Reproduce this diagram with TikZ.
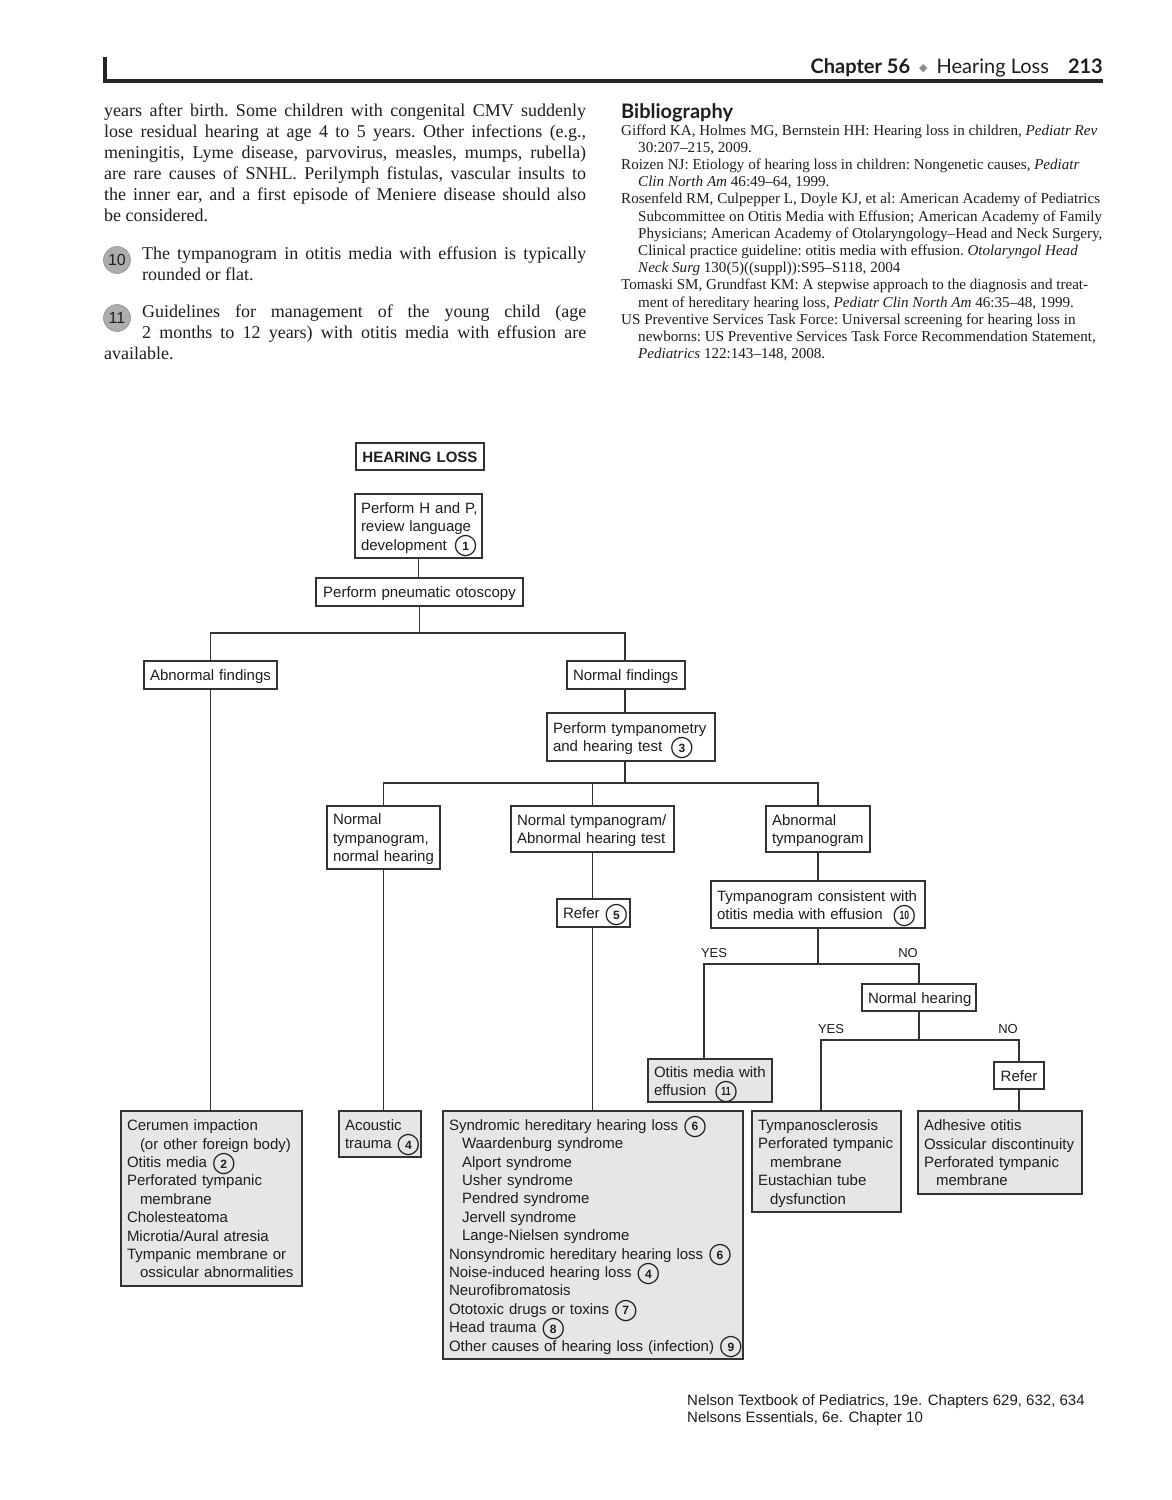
\documentclass[tikz,border=0pt]{standalone}
\usepackage{fontspec}
\setmainfont{Liberation Serif}
\newfontfamily\fc{Liberation Sans}
\newfontfamily\dv{DejaVu Sans}
\newfontfamily\hdr{Lato}
\usetikzlibrary{calc}
\definecolor{ln}{HTML}{333333}
\definecolor{boxfill}{HTML}{E6E6E6}
\definecolor{tx}{HTML}{1E1E1E}
\newcommand\cn[1]{\nobreak\mbox{\ooalign{$\vcenter{\hbox{\dv\fontsize{21}{21}\selectfont ◯}}$\cr\hidewidth$\vcenter{\hbox{\fc\bfseries\fontsize{12}{12}\selectfont #1}}$\hidewidth\cr}}}
\newcommand\cnn[1]{\nobreak\mbox{\ooalign{$\vcenter{\hbox{\dv\fontsize{21}{21}\selectfont ◯}}$\cr\hidewidth$\vcenter{\hbox{\fc\bfseries\fontsize{12}{12}\selectfont\scalebox{0.72}[1]{#1}}}$\hidewidth\cr}}}
\newcommand\gap[1]{\nobreak\hspace{#1}\nobreak}
\newcommand\fs{\rule[-3.5pt]{0pt}{18.4pt}}
\begin{document}
\begin{tikzpicture}[x=1pt,y=-1pt,
  fcb/.style={draw=ln,line width=1.2pt,inner xsep=6pt,inner ysep=0pt,
    font=\fc\fontsize{15}{18.4}\selectfont,text=tx,align=left,
    execute at begin node={\fs\hyphenpenalty=10000\exhyphenpenalty=10000},execute at end node=\fs},
  gbox/.style={fcb,fill=boxfill},
  wh/.style 2 args={text width=#1,minimum height=#2},
  conn/.style={draw=ln,line width=1.4pt},
  yn/.style={font=\fc\fontsize{13}{13}\selectfont,text=tx,inner sep=0pt},
  body/.style={anchor=base west,inner sep=0pt,text=tx},
  gnum/.style={circle,fill=black!32,draw=black!42,line width=0.6pt,minimum size=27pt,inner sep=0pt,font=\fc\fontsize{16}{16}\selectfont,text=tx}
]
\useasboundingbox (0,0) rectangle (1172,1500);
\fill[white] (0,0) rectangle (1172,1500);

% ---------- page header ----------
\fill[black!85] (103,57) rectangle (107,83);
\fill[black!85] (103,79) rectangle (1103,83);
\node[body,anchor=base east] (hdr) at (1103,73) {\hdr\fontsize{20}{20}\selectfont{\bfseries Chapter 56}\hspace{9pt}{\color{black!45}\dv\fontsize{11}{11}\selectfont\raisebox{2pt}{◆}}\hspace{9pt}Hearing Loss\hspace{19pt}{\bfseries 213}};

% ---------- left column ----------
\node[body] (p1) at (104,116) {\parbox[t]{482pt}{\fontsize{18}{21}\selectfont\frenchspacing\noindent
years after birth. Some children with congenital CMV suddenly\linebreak
lose residual hearing at age 4 to 5 years. Other infections (e.g.,\linebreak
meningitis, Lyme disease, parvovirus, measles, mumps, rubella)\linebreak
are rare causes of SNHL. Perilymph fistulas, vascular insults to\linebreak
the inner ear, and a first episode of Meniere disease should also\linebreak
be considered.}};
\node[body] (p2) at (104,259) {\parbox[t]{482pt}{\fontsize{18}{21}\selectfont\frenchspacing\noindent\hangindent=38pt\hangafter=-2
The tympanogram in otitis media with effusion is typically\linebreak
rounded or flat.}};
\node[body] (p3) at (104,317) {\parbox[t]{482pt}{\fontsize{18}{21}\selectfont\frenchspacing\noindent\hangindent=38pt\hangafter=-2
Guidelines for management of the young child (age\linebreak
2 months to 12 years) with otitis media with effusion are\linebreak
available.}};
\node[gnum] (c10) at (117,260) {10};
\node[gnum] (c11) at (117,318) {11};

% ---------- bibliography ----------
\node[body] (bibh) at (621,118) {\hdr\bfseries\fontsize{20}{20}\selectfont Bibliography};
\node[body] (bib) at (621,135) {\parbox[t]{500pt}{\fontsize{15.1}{17.2}\selectfont\frenchspacing\raggedright\noindent
Gifford KA, Holmes MG, Bernstein HH: Hearing loss in children, \textit{Pediatr Rev}\\
\hspace*{17pt}30:207--215, 2009.\\
Roizen NJ: Etiology of hearing loss in children: Nongenetic causes, \textit{Pediatr}\\
\hspace*{17pt}\textit{Clin North Am} 46:49--64, 1999.\\
Rosenfeld RM, Culpepper L, Doyle KJ, et al: American Academy of Pediatrics\\
\hspace*{17pt}Subcommittee on Otitis Media with Effusion; American Academy of Family\\
\hspace*{17pt}Physicians; American Academy of Otolaryngology--Head and Neck Surgery,\\
\hspace*{17pt}Clinical practice guideline: otitis media with effusion. \textit{Otolaryngol Head}\\
\hspace*{17pt}\textit{Neck Surg} 130(5)((suppl)):S95--S118, 2004\\
Tomaski SM, Grundfast KM: A stepwise approach to the diagnosis and treat-\\
\hspace*{17pt}ment of hereditary hearing loss, \textit{Pediatr Clin North Am} 46:35--48, 1999.\\
US Preventive Services Task Force: Universal screening for hearing loss in\\
\hspace*{17pt}newborns: US Preventive Services Task Force Recommendation Statement,\\
\hspace*{17pt}\textit{Pediatrics} 122:143--148, 2008.}};

% ---------- flowchart boxes ----------
\node[fcb,wh={116pt}{27pt},align=center,font=\fc\bfseries\fontsize{15}{18.4}\selectfont] (hl) at (420,456.5) {\mbox{HEARING LOSS}};
\node[fcb,wh={115pt}{64pt}] (hp) at (418.5,526) {\mbox{Perform H and P,}\\review language\\\mbox{development\gap{7pt}\cn{1}}};
\node[fcb,wh={195pt}{28pt},align=center] (po) at (419.5,592) {\mbox{Perform pneumatic otoscopy}};
\node[fcb,wh={121pt}{28pt}] (abn) at (210.5,675) {\mbox{Abnormal findings}};
\node[fcb,wh={106pt}{28pt}] (nf) at (626,675) {\mbox{Normal findings}};
\node[fcb,wh={156pt}{48pt}] (pt) at (631,737) {\mbox{Perform tympanometry}\\\mbox{and hearing test\gap{8pt}\cn{3}}};
\node[fcb,wh={101pt}{63pt}] (ntnh) at (383.5,837.5) {Normal\\tympanogram,\\\mbox{normal hearing}};
\node[fcb,wh={151pt}{46pt}] (ntah) at (592.5,829) {\mbox{Normal tympanogram/}\\\mbox{Abnormal hearing test}};
\node[fcb,wh={92pt}{46pt}] (at) at (818,829) {Abnormal\\tympanogram};
\node[fcb,wh={61pt}{28pt}] (r5) at (593.5,913) {\mbox{Refer\gap{5pt}\cn{5}}};
\node[fcb,wh={202pt}{47pt}] (tc) at (818,904.5) {\mbox{Tympanogram consistent with}\\\mbox{otitis media with effusion\gap{10pt}\cnn{10}}};
\node[gbox,wh={112pt}{43pt}] (ome) at (710,1080.5) {\mbox{Otitis media with}\\\mbox{effusion\gap{8pt}\cnn{11}}};
\node[fcb,wh={102pt}{27pt},align=center] (nh) at (919,997.5) {\mbox{Normal hearing}};
\node[fcb,wh={38pt}{27pt},align=center] (rf) at (1019,1075.5) {Refer};

\node[gbox,wh={169pt}{175pt}] (cer) at (211.5,1198.5) {\mbox{Cerumen impaction}\\
\hspace*{13pt}\mbox{(or other foreign body)}\\
\mbox{Otitis media\gap{5pt}\cn{2}}\\
\mbox{Perforated tympanic}\\
\hspace*{13pt}membrane\\
Cholesteatoma\\
\mbox{Microtia/Aural atresia}\\
\mbox{Tympanic membrane or}\\
\hspace*{13pt}\mbox{ossicular abnormalities}};
\node[gbox,wh={70pt}{46pt}] (ac) at (380,1134) {Acoustic\\\mbox{trauma\gap{5pt}\cn{4}}};
\node[gbox,wh={288pt}{248pt}] (syn) at (593,1235) {\mbox{Syndromic hereditary hearing loss\gap{5pt}\cn{6}}\\
\hspace*{13pt}\mbox{Waardenburg syndrome}\\
\hspace*{13pt}\mbox{Alport syndrome}\\
\hspace*{13pt}\mbox{Usher syndrome}\\
\hspace*{13pt}\mbox{Pendred syndrome}\\
\hspace*{13pt}\mbox{Jervell syndrome}\\
\hspace*{13pt}\mbox{Lange-Nielsen syndrome}\\
\mbox{Nonsyndromic hereditary hearing loss\gap{5pt}\cn{6}}\\
\mbox{Noise-induced hearing loss\gap{5pt}\cn{4}}\\
Neurofibromatosis\\
\mbox{Ototoxic drugs or toxins\gap{5pt}\cn{7}}\\
\mbox{Head trauma\gap{5pt}\cn{8}}\\
\mbox{Other causes of hearing loss (infection)\gap{5pt}\cn{9}}};
\node[gbox,wh={137pt}{101pt}] (ty) at (826.5,1161.5) {Tympanosclerosis\\
\mbox{Perforated tympanic}\\
\hspace*{12pt}membrane\\
\mbox{Eustachian tube}\\
\hspace*{12pt}dysfunction};
\node[gbox,wh={152pt}{83pt}] (ad) at (1000,1152.5) {\mbox{Adhesive otitis}\\
\mbox{Ossicular discontinuity}\\
\mbox{Perforated tympanic}\\
\hspace*{12pt}membrane};

% ---------- labels ----------
\node[yn] (yes1) at (714,953) {YES};
\node[yn] (no1) at (908,953) {NO};
\node[yn] (yes2) at (831,1029) {YES};
\node[yn] (no2) at (1008,1029) {NO};

% ---------- connectors ----------
\coordinate (j1) at (po.south |- 0,633);
\coordinate (j2) at (625,783);
\coordinate (j3) at (818,964);
\coordinate (j4) at (919,1040);
\coordinate (omeT) at ($(ome.north)+(-6,0)$);
\coordinate (tyT) at ($(ty.north)+(-5.5,0)$);
\coordinate (nfS) at ($(nf.south)+(-1,0)$);

\draw[conn] (hp.south) -- (hp.south |- po.north);
\draw[conn] (po.south) -- (j1);
\draw[conn] (abn.north) |- (j1) -| (nfS |- nf.north);
\draw[conn] (abn.south) -- (abn.south |- cer.north);
\draw[conn] (nfS) -- (nfS |- pt.north);
\draw[conn] (nfS |- pt.south) -- (j2);
\draw[conn] (ntnh.north) |- (j2) -| (at.north);
\draw[conn] (ntah.north) -- (ntah.north |- j2);
\draw[conn] (ntnh.south) -- (ntnh.south |- ac.north);
\draw[conn] (ntah.south) -- (ntah.south |- r5.north);
\draw[conn] (ntah.south |- r5.south) -- (ntah.south |- syn.north);
\draw[conn] (at.south) -- (tc.north);
\draw[conn] (tc.south) -- (j3);
\draw[conn] (omeT) |- (j3) -| (nh.north);
\draw[conn] (nh.south) -- (j4);
\draw[conn] (tyT) |- (j4) -| (rf.north);
\draw[conn] (rf.south) -- (rf.south |- ad.north);

% ---------- footer ----------
\node[body] (foot) at (687,1405) {\parbox[t]{420pt}{\fc\fontsize{15}{17}\selectfont Nelson Textbook of Pediatrics, 19e. Chapters 629, 632, 634\\Nelsons Essentials, 6e. Chapter 10}};
\end{tikzpicture}
\end{document}
